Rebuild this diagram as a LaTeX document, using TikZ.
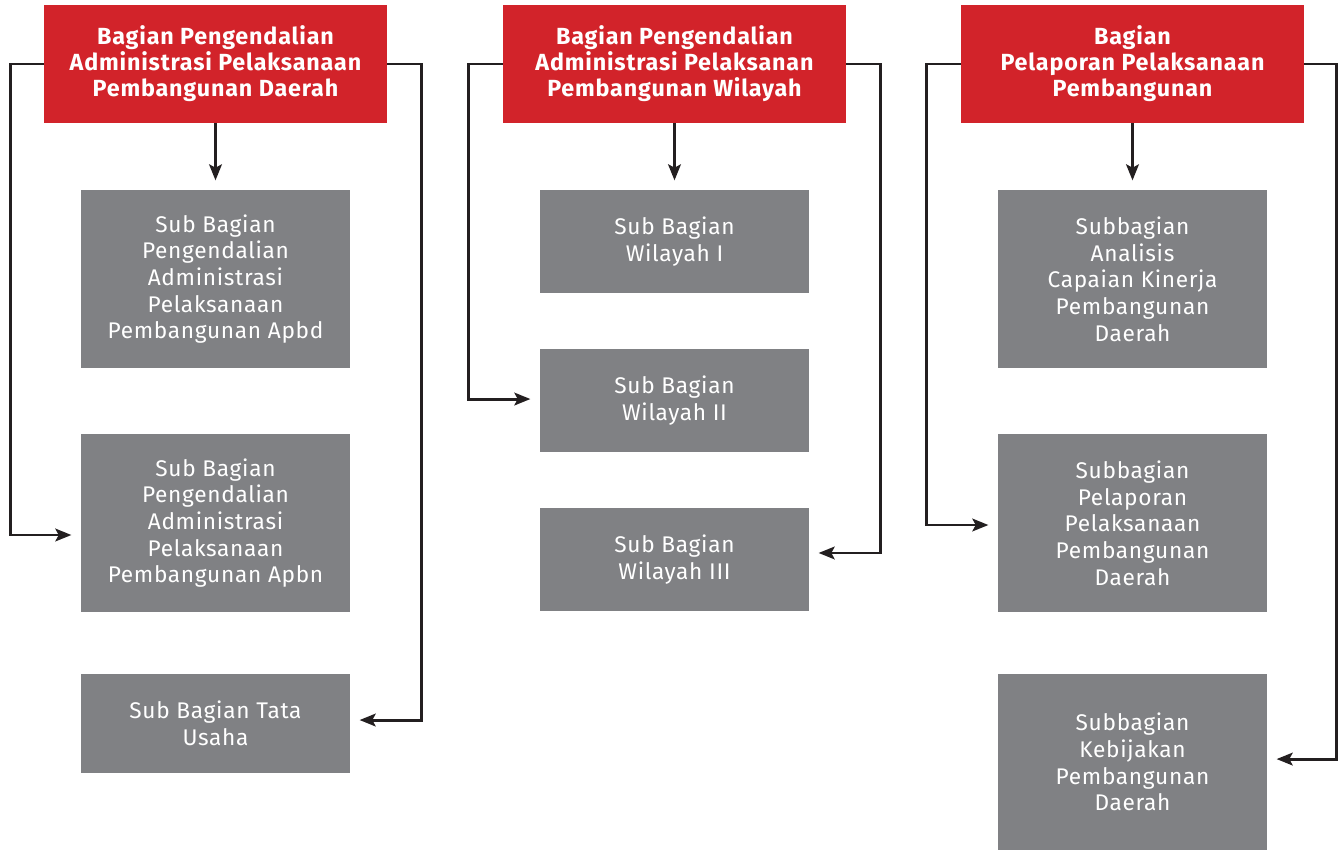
\documentclass[tikz,border=0pt]{standalone}
\usepackage{fontspec}
\setmainfont{Fira Sans}
\newfontfamily\hdfont[LetterSpace=3.5]{Fira Sans Bold}
\newfontfamily\subfont[LetterSpace=3]{Fira Sans}
\usetikzlibrary{arrows.meta}
\definecolor{hdred}{HTML}{D2232A}
\definecolor{subgrey}{HTML}{808184}
\definecolor{lineblk}{HTML}{231F20}
\begin{document}
\begin{tikzpicture}[x=0.75pt,y=-0.75pt,
  hdbox/.style={fill=hdred,text=white,inner sep=0pt,minimum width=257.25pt,minimum height=88.5pt,align=center,font=\hdfont\fontsize{17.5}{19.5}\selectfont},
  subbox/.style={fill=subgrey,text=white,inner sep=0pt,minimum width=201.75pt,align=center,font=\subfont\fontsize{17}{20}\selectfont},
  conn/.style={draw=lineblk,line width=2.2pt,-{Stealth[length=12pt,width=9.5pt,inset=2.5pt]},shorten >=7pt}
]
\useasboundingbox (0,0) rectangle (1338,850);
% headers
\node[hdbox] (h1) at (215.5,64) {Bagian Pengendalian\\Administrasi Pelaksanaan\\Pembangunan Daerah};
\node[hdbox] (h2) at (674.5,64) {Bagian Pengendalian\\Administrasi Pelaksanan\\Pembangunan Wilayah};
\node[hdbox] (h3) at (1132.5,64) {Bagian\\Pelaporan Pelaksanaan\\Pembangunan};
% column 1
\node[subbox,minimum height=133.5pt] (a1) at (215.5,279) {Sub Bagian\\Pengendalian\\Administrasi\\Pelaksanaan\\Pembangunan Apbd};
\node[subbox,minimum height=133.5pt] (a2) at (215.5,523) {Sub Bagian\\Pengendalian\\Administrasi\\Pelaksanaan\\Pembangunan Apbn};
\node[subbox,minimum height=74.25pt] (a3) at (215.5,723.5) {Sub Bagian Tata\\Usaha};
% column 2
\node[subbox,minimum height=77.25pt] (b1) at (674.5,241.5) {Sub Bagian\\Wilayah I};
\node[subbox,minimum height=77.25pt] (b2) at (674.5,400.5) {Sub Bagian\\Wilayah II};
\node[subbox,minimum height=77.25pt] (b3) at (674.5,559.5) {Sub Bagian\\Wilayah III};
% column 3
\node[subbox,minimum height=133.5pt] (c1) at (1132.5,279) {Subbagian\\Analisis\\Capaian Kinerja\\Pembangunan\\Daerah};
\node[subbox,minimum height=133.5pt] (c2) at (1132.5,523) {Subbagian\\Pelaporan\\Pelaksanaan\\Pembangunan\\Daerah};
\node[subbox,minimum height=132pt] (c3) at (1132.5,762) {Subbagian\\Kebijakan\\Pembangunan\\Daerah};
% connectors column 1
\draw[conn] (h1.south) -- (a1.north);
\draw[conn] (h1.west) -- ++(-33,0) |- ([yshift=-9pt]a2.west);
\draw[conn] (h1.east) -- ++(34,0) |- ([yshift=2.6pt]a3.east);
% connectors column 2
\draw[conn] (h2.south) -- (b1.north);
\draw[conn] (h2.west) -- ++(-34,0) |- ([yshift=1.1pt]b2.west);
\draw[conn] (h2.east) -- ++(34,0) |- ([yshift=4.9pt]b3.east);
% connectors column 3
\draw[conn] (h3.south) -- (c1.north);
\draw[conn] (h3.west) -- ++(-34,0) |- ([yshift=-1.5pt]c2.west);
\draw[conn] (h3.east) -- ++(32.5,0) |- ([yshift=2.2pt]c3.east);
\end{tikzpicture}
\end{document}
